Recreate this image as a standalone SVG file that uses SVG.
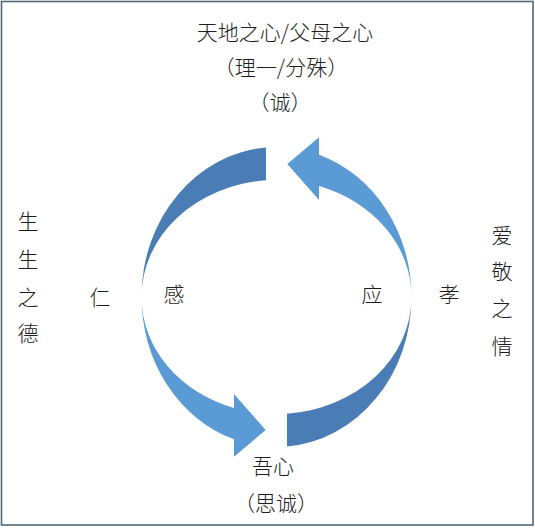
<svg xmlns="http://www.w3.org/2000/svg" width="535" height="528" viewBox="0 0 535 528">
<style>
.t{font-family:"Noto Sans CJK SC","Noto Sans CJK JP",sans-serif;font-size:21px;fill:#1e1e1e;font-weight:300}
.m{text-anchor:middle}
.dark{fill:#4a7db5}
.light{fill:#5b9bd5}
</style>
<rect x="1.5" y="1.5" width="531.5" height="523.5" fill="#ffffff" stroke="#4f6978" stroke-width="1.6"/>
<g id="connectors">
<path class="dark" d="M266,147.45 A135,150 0 0 0 141.5,297 A135,117 0 0 1 266,180.35 Z"/>
<path class="light" d="M141.5,297 A135,150 0 0 0 234,439.37 L234,456.7 L265.7,430 L234,394 L234,408.05 A135,117 0 0 1 141.5,297 Z"/>
<path class="dark" d="M287,446.55 A135,150 0 0 0 411.5,297 A135,117 0 0 1 287,413.65 Z"/>
<path class="light" d="M411.5,297 A135,150 0 0 0 319,154.63 L319,137.3 L287.3,164 L319,200 L319,185.95 A135,117 0 0 1 411.5,297 Z"/>
</g>
<g id="top-heart">
<text class="t m" x="285" y="40">天地之心/父母之心</text>
<text class="t m" x="281" y="75">（理一/分殊）</text>
<text class="t m" x="280" y="110">（诚）</text>
</g>
<g id="shengsheng">
<text class="t m" x="28" y="229">生</text>
<text class="t m" x="28" y="267">生</text>
<text class="t m" x="28" y="305">之</text>
<text class="t m" x="28" y="341">德</text>
</g>
<g id="ren"><text class="t m" x="100" y="305">仁</text></g>
<g id="gan"><text class="t m" x="174" y="302">感</text></g>
<g id="ying"><text class="t m" x="372" y="302">应</text></g>
<g id="xiao"><text class="t m" x="449" y="302">孝</text></g>
<g id="aijing">
<text class="t m" x="502" y="243">爱</text>
<text class="t m" x="502" y="279">敬</text>
<text class="t m" x="502" y="316">之</text>
<text class="t m" x="502" y="354">情</text>
</g>
<g id="wuxin">
<text class="t m" x="273" y="474">吾心</text>
<text class="t m" x="276" y="511">（思诚）</text>
</g>
</svg>
